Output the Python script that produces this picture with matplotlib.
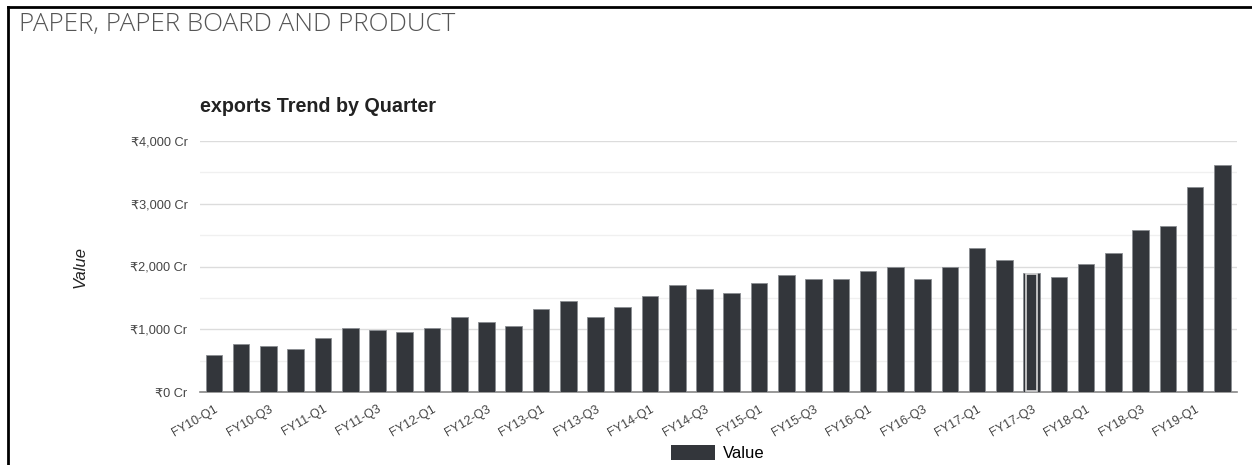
import matplotlib.pyplot as plt
from matplotlib.lines import Line2D
from matplotlib.patches import Patch
from matplotlib.ticker import FuncFormatter, MultipleLocator

quarters = [f"FY{y}-Q{q}" for y in range(10, 20) for q in range(1, 5)][:38]
values = [
    596, 771, 739, 691, 867, 1016, 984, 952, 1016, 1191,
    1117, 1059, 1319, 1452, 1191, 1351, 1537, 1713, 1644, 1580,
    1745, 1862, 1793, 1793, 1926, 1995, 1793, 1995, 2298, 2101,
    1904, 1830, 2037, 2223, 2580, 2644, 3271, 3622,
]
highlight = "FY17-Q3"

BAR = "#33363b"
FONT = ["Liberation Sans", "DejaVu Sans"]
plt.rcParams["font.family"] = FONT

fig = plt.figure(figsize=(12.52, 4.65), dpi=100)
ax = fig.add_axes([200 / 1252, 1 - 392 / 465, 1037 / 1252, 251 / 465])

x = list(range(len(quarters)))
ax.bar(x, values, width=0.61, color=BAR, edgecolor="#8a8d92", linewidth=0.6, zorder=3)
hi = quarters.index(highlight)
ax.bar(hi, values[hi] - 45, bottom=20, width=0.42, facecolor="none",
       edgecolor="#d8d8d8", linewidth=1.2, zorder=4)

ax.set_xlim(-0.51, len(quarters) - 0.465)
ax.set_ylim(0, 4000)
ax.yaxis.set_major_locator(MultipleLocator(1000))
ax.yaxis.set_minor_locator(MultipleLocator(500))
ax.yaxis.set_major_formatter(FuncFormatter(lambda v, _: f"\u20b9{v:,.0f} Cr"))
ax.grid(axis="y", which="major", color="#dcdcdc", linewidth=1.0, zorder=0)
ax.grid(axis="y", which="minor", color="#f0f0f0", linewidth=1.0, zorder=0)
ax.tick_params(axis="y", which="both", length=0, labelsize=9.2, labelcolor="#444444", pad=9)

ax.set_xticks(x[::2])
ax.set_xticklabels(quarters[::2], rotation=30, ha="right", rotation_mode="anchor",
                   fontsize=9, color="#444444")
ax.tick_params(axis="x", length=0, pad=8)

for side in ("top", "right", "left"):
    ax.spines[side].set_visible(False)
ax.spines["bottom"].set_color("#888888")
ax.spines["bottom"].set_linewidth(1.2)

ax.set_ylabel("Value", fontsize=12, style="italic", color="#222222", labelpad=31)

fig.text(200 / 1252, 1 - 107 / 465, "exports Trend by Quarter", fontsize=14.2,
         fontweight="bold", color="#222222", va="center")
fig.text(19 / 1252, 1 - 24 / 465, "PAPER, PAPER BOARD AND PRODUCT", fontsize=18.7,
         family=["Open Sans", "DejaVu Sans"], fontweight="light", color="#555555",
         va="center")

fig.legend(handles=[Patch(facecolor=BAR, label="Value")], loc="center",
           bbox_to_anchor=(718 / 1252, 1 - 453 / 465), frameon=False, fontsize=12,
           handlelength=2.6, handleheight=1.0, handletextpad=0.5)

fig.add_artist(Line2D([8 / 1252, 8 / 1252], [0, 1 - 7 / 465], color="black",
                      linewidth=2, transform=fig.transFigure))
fig.add_artist(Line2D([8 / 1252, 1], [1 - 7 / 465, 1 - 7 / 465], color="black",
                      linewidth=2, transform=fig.transFigure))

fig.savefig("out.png", dpi=100)
